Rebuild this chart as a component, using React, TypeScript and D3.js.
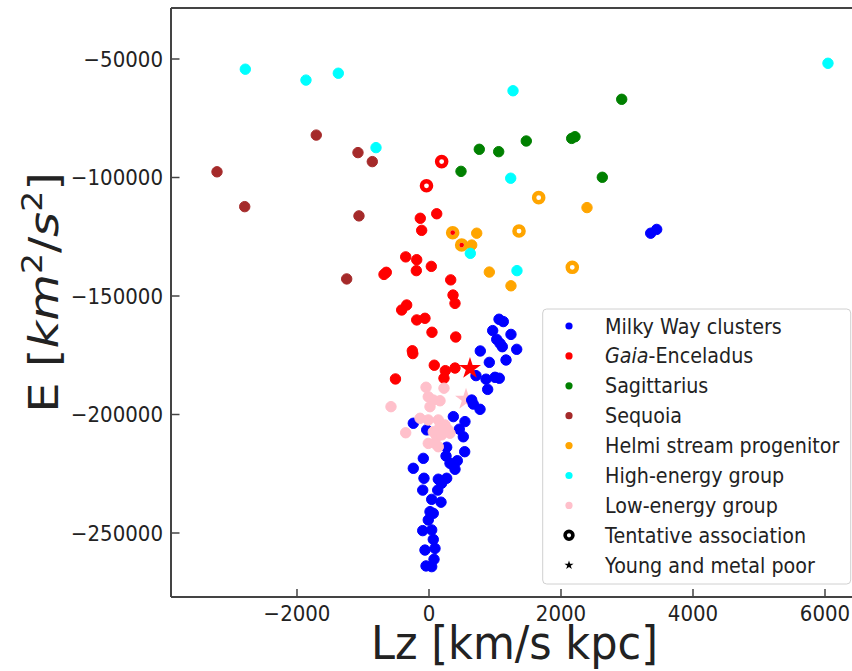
import React from "react";
import * as d3 from "d3";

type P = [number, number];

const milkyWay: P[] = [[1061,-159800],[1126,-160800],[965,-164600],[1242,-166200],[1026,-168300],[1076,-170000],[1111,-171400],[1329,-172500],[777,-173200],[1167,-177000],[914,-178000],[712,-183600],[864,-185100],[1000,-184300],[1065,-184700],[889,-189400],[647,-193900],[671,-195600],[773,-197800],[545,-203000],[-238,-203700],[-35,-206500],[459,-206200],[520,-209400],[268,-213800],[541,-215700],[258,-217500],[318,-220600],[429,-219500],[394,-223100],[-86,-218500],[-238,-222700],[-76,-226900],[141,-227300],[268,-226900],[192,-229000],[-95,-231900],[132,-231900],[41,-235800],[182,-237000],[15,-241000],[65,-241700],[-11,-244500],[-95,-249000],[41,-248700],[65,-252700],[-61,-257200],[91,-256500],[76,-261100],[-45,-263900],[41,-264200],[3359,-123500],[3450,-121900],[369,-200900]];
const gaiaEnceladus: P[] = [[117,-115300],[-132,-117200],[-111,-122300],[-353,-133500],[-186,-134700],[-192,-139300],[35,-137500],[-647,-140000],[-682,-140900],[329,-143200],[364,-149600],[394,-153100],[-414,-155900],[-338,-153800],[-186,-160100],[-61,-159400],[45,-165300],[405,-167300],[-253,-173100],[-245,-174300],[-508,-185000],[80,-179200],[247,-181500],[394,-180400],[227,-184700]];
const gaiaEnceladusTentative: P[] = [[-38,-103500],[192,-93300]];
const gaiaEnceladusYoung: P[] = [[621,-180600]];
const sagittarius: P[] = [[2920,-67000],[2162,-83500],[2212,-82800],[1474,-84600],[762,-88100],[1056,-89100],[485,-97400],[2626,-99900]];
const sequoia: P[] = [[-3212,-97600],[-2792,-112300],[-1708,-82100],[-1076,-89500],[-859,-93300],[-1061,-116200],[-1247,-142800]];
const helmi: P[] = [[2394,-112700],[723,-123500],[647,-128500],[914,-139900],[1242,-145700]];
const helmiTentative: P[] = [[1662,-108500],[1364,-122600],[2171,-137900]];
const helmiTentativeGE: P[] = [[359,-123300],[495,-128500]];
const highEnergy: P[] = [[-2783,-54300],[-1864,-58900],[-1374,-56000],[-803,-87400],[1273,-63400],[6045,-51800],[1238,-100300],[626,-132000],[1333,-139300]];
const lowEnergy: P[] = [[-45,-188500],[227,-188900],[-576,-196700],[-11,-192500],[65,-193900],[167,-194200],[15,-196700],[-136,-201600],[-11,-202300],[141,-202300],[167,-205100],[242,-204400],[292,-206500],[318,-207900],[65,-207300],[117,-209400],[192,-208600],[-353,-207700],[-11,-212200],[91,-212200],[141,-213600]];
const lowEnergyYoung: P[] = [[561,-193600]];

const xTicks = [-2000, 0, 2000, 4000, 6000];
const yTicks = [-50000, -100000, -150000, -200000, -250000];

const legendLabels = ["Milky Way clusters", "Gaia-Enceladus", "Sagittarius", "Sequoia", "Helmi stream progenitor", "High-energy group", "Low-energy group", "Tentative association", "Young and metal poor"];
const legendColors = ["blue", "red", "green", "brown", "orange", "cyan", "pink", "black", "black"];

const W = 852, H = 671;
const L = 171, R = 858, T = 8, B = 597;
const FONT = "DejaVu Sans, sans-serif";
const TXT = "#222";
const SPINE = "#444";

export default function App() {
  const x = d3.scaleLinear().domain([-3909, 6500]).range([L, R]);
  const y = d3.scaleLinear().domain([-277004, -28481]).range([B, T]);
  const star = d3.symbol().type(d3.symbolStar);

  const dots = (data: P[], color: string, key: string) =>
    data.map((d, i) => (
      <circle key={key + i} cx={x(d[0])} cy={y(d[1])} r={5.2} fill={color} stroke={color} strokeWidth={1} />
    ));
  const rings = (data: P[], color: string, key: string) =>
    data.map((d, i) => (
      <circle key={key + i} cx={x(d[0])} cy={y(d[1])} r={4.6} fill="white" stroke={color} strokeWidth={4.4} />
    ));
  const stars = (data: P[], color: string, key: string) =>
    data.map((d, i) => (
      <path key={key + i} d={star.size(150)() as string} transform={`translate(${x(d[0])},${y(d[1])})`} fill={color} />
    ));

  const legX = 569, legTextX = 605, legY0 = 326, legDy = 29.9;

  return (
    <svg width={W} height={H} style={{ position: "absolute", left: 0, top: 0, background: "white" }} fontFamily={FONT}>
      <rect x={0} y={0} width={W} height={H} fill="white" />
      <defs>
        <clipPath id="plot">
          <rect x={L} y={T} width={R - L} height={B - T} />
        </clipPath>
      </defs>
      <g clipPath="url(#plot)">
        {stars(lowEnergyYoung, "pink", "lsy")}
        {dots(milkyWay, "blue", "mw")}
        {dots(gaiaEnceladus, "red", "ge")}
        {rings(gaiaEnceladusTentative, "red", "get")}
        {dots(sagittarius, "green", "sg")}
        {dots(sequoia, "brown", "sq")}
        {dots(helmi, "orange", "he")}
        {rings(helmiTentative, "orange", "het")}
        {rings(helmiTentativeGE, "orange", "hge")}
        {helmiTentativeGE.map((d, i) => (
          <circle key={"hgd" + i} cx={x(d[0])} cy={y(d[1])} r={2.4} fill="red" />
        ))}
        {dots(highEnergy, "cyan", "hi")}
        {dots(lowEnergy, "pink", "lo")}
        {stars(gaiaEnceladusYoung, "red", "gey")}
      </g>
      {/* spines */}
      <line x1={L} x2={L} y1={T} y2={B} stroke={SPINE} strokeWidth={2} />
      <line x1={L} x2={W} y1={B} y2={B} stroke={SPINE} strokeWidth={2} />
      <line x1={L} x2={W} y1={T} y2={T} stroke={SPINE} strokeWidth={2} />
      {/* x ticks */}
      {xTicks.map((t) => (
        <g key={"xt" + t}>
          <line x1={x(t)} x2={x(t)} y1={B} y2={B - 8} stroke={SPINE} strokeWidth={1.5} />
          <text transform={`translate(${x(t)},621) scale(0.92,1)`} textAnchor="middle" fontSize={21.5} fill={TXT}>
            {t < 0 ? "\u2212" + Math.abs(t) : String(t)}
          </text>
        </g>
      ))}
      {/* y ticks */}
      {yTicks.map((t) => (
        <g key={"yt" + t}>
          <line x1={L} x2={L + 8.5} y1={y(t)} y2={y(t)} stroke={SPINE} strokeWidth={1.5} />
          <text transform={`translate(163,${y(t) + 7.8}) scale(0.92,1)`} textAnchor="end" fontSize={21.5} fill={TXT}>
            {"\u2212" + Math.abs(t)}
          </text>
        </g>
      ))}
      {/* axis labels */}
      <text transform={`translate(514.5,659) scale(0.915,1)`} textAnchor="middle" fontSize={47} fill={TXT}>
        Lz [km/s kpc]
      </text>
      <text transform={`translate(58,292.5) scale(0.86,1) rotate(-90)`} textAnchor="middle" fontSize={48} fill={TXT}>
        {"E ["}
        <tspan fontStyle="italic">km</tspan>
        <tspan fontSize={33} dy={-19}>2</tspan>
        <tspan dy={19}>/</tspan>
        <tspan fontStyle="italic">s</tspan>
        <tspan fontSize={33} dy={-19}>2</tspan>
        <tspan dy={19}>]</tspan>
      </text>
      {/* legend */}
      <rect x={542.7} y={309} width={308} height={275} rx={4} fill="white" fillOpacity={0.8} stroke="#d0d0d0" strokeWidth={1} />
      {legendLabels.map((lab, i) => {
        const cy = legY0 + i * legDy;
        let marker;
        if (i < 7) marker = <circle cx={legX} cy={cy} r={3.6} fill={legendColors[i]} />;
        else if (i === 7) marker = <circle cx={legX} cy={cy} r={3.9} fill="white" stroke="black" strokeWidth={3.6} />;
        else marker = <path d={star.size(26)() as string} transform={`translate(${legX},${cy})`} fill="black" />;
        return (
          <g key={"lg" + i}>
            {marker}
            <text transform={`translate(${legTextX},${cy + 7.5}) scale(0.87,1)`} fontSize={22} fill={TXT}>
              {i === 1 ? (
                <>
                  <tspan fontStyle="italic">Gaia</tspan>-Enceladus
                </>
              ) : (
                lab
              )}
            </text>
          </g>
        );
      })}
    </svg>
  );
}
